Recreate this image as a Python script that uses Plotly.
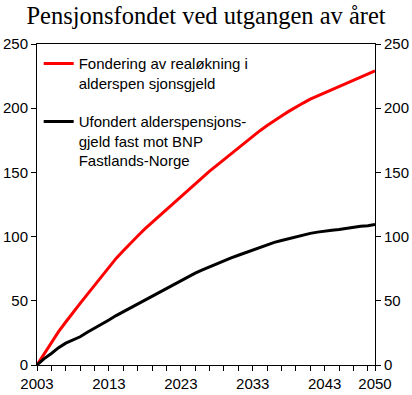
import plotly.graph_objects as go

years = list(range(2003, 2051))

fondering = [0, 9, 18, 26, 33.5, 41, 48, 55, 62, 69.5,
             76.5, 83, 89, 95, 100.5, 106, 111, 116, 121, 126.5,
             131.5, 136.5, 141.5, 146.5, 151, 155.5, 160, 165, 169.5, 174,
             178, 182.5, 186.5, 190.5, 194, 197.5, 201, 204, 207, 209.5,
             212, 214.5, 217, 219.5, 222, 224, 226.5, 229]

ufondert = [0, 5, 9, 13.5, 17, 19.5, 22, 25.5, 28.5, 32,
            35, 38.5, 41.5, 44.5, 48, 51, 54, 57, 60, 63,
            66, 69, 71.5, 74, 76.5, 79, 81.5, 83.5, 85.5, 87.5,
            89.5, 91.5, 94, 95.5, 97, 98.5, 100, 101.5, 102.5, 103.5,
            104.5, 105, 105.5, 106.5, 107.5, 108, 108.5, 109.5]

x_tickvals = list(range(2003, 2050, 2)) + [2050]
x_label_years = [2003, 2013, 2023, 2033, 2043, 2050]
x_ticktext = [str(v) if v in x_label_years else "" for v in x_tickvals]
y_ticks = [0, 50, 100, 150, 200, 250]

name_red = "Fondering av realøkning i<br>alderspen sjonsgjeld"
name_black = "Ufondert alderspensjons-<br>gjeld fast mot BNP<br>Fastlands-Norge"
title = "Pensjonsfondet ved utgangen av året"

fig = go.Figure()
fig.add_trace(go.Scatter(x=years, y=fondering, mode="lines", name=name_red,
                         line=dict(color="#ff0000", width=3), legendgroup="a"))
fig.add_trace(go.Scatter(x=years, y=ufondert, mode="lines", name=name_black,
                         line=dict(color="#000000", width=3), legendgroup="b"))
# invisible trace so that the right-hand axis is drawn
fig.add_trace(go.Scatter(x=years, y=ufondert, mode="lines", yaxis="y2",
                         line=dict(color="rgba(0,0,0,0)", width=0),
                         showlegend=False, hoverinfo="skip"))

axis_font = dict(family="Liberation Sans, Arial, sans-serif", size=15, color="black")

W, H = 412, 395

fig.update_layout(
    width=W, height=H,
    margin=dict(l=37, r=37, t=44, b=30),
    paper_bgcolor="white", plot_bgcolor="white",
    title=dict(text=title, x=0.5, xanchor="center", xref="paper",
               yref="container", y=1 - 15 / H, yanchor="middle",
               font=dict(family="Liberation Serif, Times New Roman, serif", size=24.5, color="black")),
    showlegend=True,
    legend=dict(x=0.005, y=0.99, xanchor="left", yanchor="top",
                font=dict(family="Liberation Sans, Arial, sans-serif", size=15, color="black"),
                bgcolor="rgba(0,0,0,0)", valign="top", traceorder="grouped",
                tracegroupgap=16, itemwidth=30),
    xaxis=dict(range=[2003, 2050], tickvals=x_tickvals, ticktext=x_ticktext,
               ticks="outside", ticklen=5, tickcolor="black", showline=True,
               linecolor="black", linewidth=1, mirror=True, showgrid=False,
               zeroline=False, tickfont=axis_font, tickangle=0, automargin=False),
    yaxis=dict(range=[0, 250], tickvals=y_ticks, ticks="outside", ticklen=5,
               tickcolor="black", showline=True, linecolor="black", linewidth=1,
               showgrid=False, zeroline=False, tickfont=axis_font, automargin=False),
    yaxis2=dict(range=[0, 250], tickvals=y_ticks, ticks="outside", ticklen=5,
                tickcolor="black", showline=True, linecolor="black", linewidth=1,
                showgrid=False, zeroline=False, tickfont=axis_font,
                overlaying="y", side="right", automargin=False),
)

fig.write_html("out.html",
               config={"displayModeBar": False},
               post_script="document.body.style.margin='0';document.body.style.overflow='hidden';")
